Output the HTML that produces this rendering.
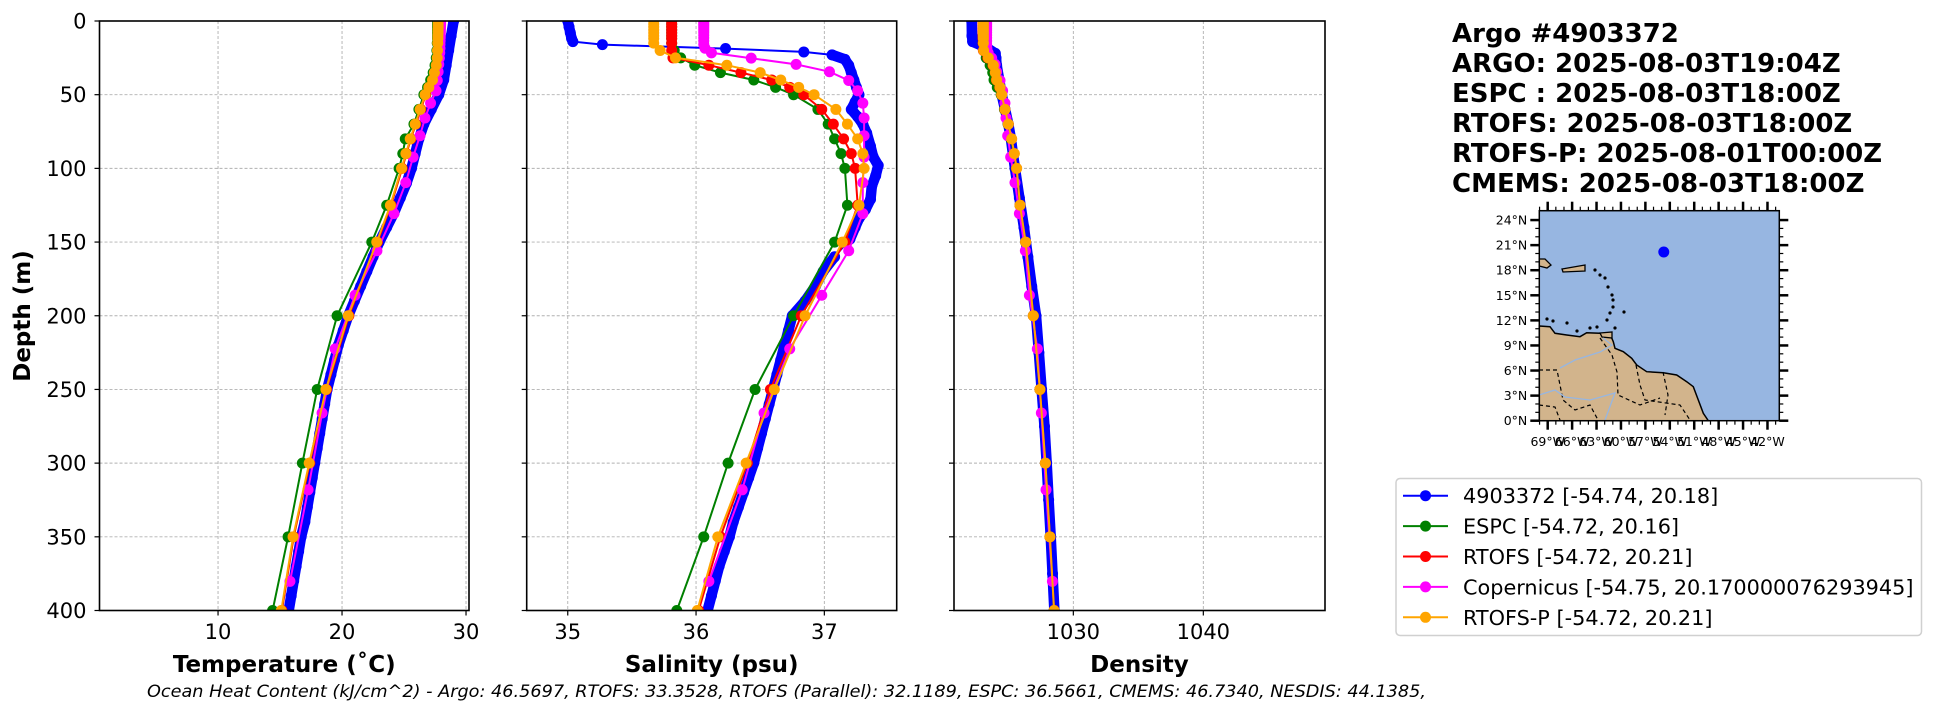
<!DOCTYPE html>
<html><head><meta charset="utf-8"><style>
html,body{margin:0;padding:0;background:#fff;}
svg{display:block;font-family:"DejaVu Sans","Liberation Sans",sans-serif;}
</style></head><body>
<svg id="fig" width="1948" height="712" viewBox="0 0 1948 712" xmlns="http://www.w3.org/2000/svg">
<g id="panels"></g>
<g id="titleblock" font-weight="bold" font-size="26">
<text x="1452" y="42">Argo #4903372</text>
<text x="1452" y="72">ARGO: 2025-08-03T19:04Z</text>
<text x="1452" y="102">ESPC : 2025-08-03T18:00Z</text>
<text x="1452" y="132">RTOFS: 2025-08-03T18:00Z</text>
<text x="1452" y="162">RTOFS-P: 2025-08-01T00:00Z</text>
<text x="1452" y="192">CMEMS: 2025-08-03T18:00Z</text>
</g>
<g id="map"></g>
<g id="legend"></g>
<text x="147" y="697" font-size="17" font-style="italic" textLength="1279" lengthAdjust="spacingAndGlyphs">Ocean Heat Content (kJ/cm^2) - Argo: 46.5697,  RTOFS: 33.3528,  RTOFS (Parallel): 32.1189,  ESPC: 36.5661,  CMEMS: 46.7340,  NESDIS: 44.1385,</text>
</svg>
<script>
// ---------- data ----------
const modelDepths = [0,2,4,6,8,10,12,15,20,25,30,35,40,45,50,60,70,80,90,100,125,150,200,250,300,350,400];
const cmemsDepths = [0.49,1.54,2.65,3.82,5.08,6.44,7.93,9.57,11.4,13.47,15.81,18.5,21.6,25.21,29.44,34.43,40.34,47.37,55.76,65.81,77.85,92.33,109.7,130.7,155.9,186.1,222.5,266.0,318.1,380.2];
const argoTempDepths = [0,10,20,30,40,50,60,70,80,90,100,110,120,130,140,150,160,170,180,190,200,210,220,230,240,250,260,270,280,290,300,310,320,330,340,350,360,370,380,390,400];
const argoTemp = [29.0,28.8,28.6,28.4,28.2,27.8,27.2,26.6,26.2,25.9,25.6,25.2,24.7,24.2,23.6,23.0,22.5,22.0,21.5,21.0,20.5,20.1,19.7,19.4,19.1,18.8,18.6,18.4,18.2,18.0,17.8,17.6,17.4,17.2,17.0,16.7,16.5,16.3,16.1,15.9,15.7];
const espcTemp = [27.7,27.7,27.7,27.7,27.7,27.7,27.7,27.68,27.65,27.6,27.5,27.35,27.15,26.9,26.6,26.2,25.8,25.1,24.9,24.6,23.6,22.4,19.6,18.0,16.8,15.65,14.4];
const rtofsTemp = [27.8,27.8,27.8,27.79,27.79,27.78,27.78,27.77,27.75,27.72,27.65,27.5,27.35,27.05,26.75,26.35,25.95,25.55,25.2,24.85,23.95,22.85,20.55,18.75,17.4,16.1,15.15];
const rtofspTemp = [27.75,27.75,27.75,27.74,27.74,27.73,27.73,27.72,27.7,27.68,27.6,27.45,27.3,27.0,26.7,26.3,25.9,25.5,25.15,24.8,23.9,22.8,20.5,18.7,17.35,16.05,15.1];
const cmemsTemp = [27.95,27.95,27.95,27.94,27.94,27.93,27.93,27.92,27.92,27.91,27.9,27.9,27.88,27.85,27.8,27.75,27.68,27.58,27.14,26.69,26.29,25.73,25.14,24.19,22.82,21.05,19.44,18.39,17.26,15.8];
const argoSalDepths = [0,4,8,12,14,16,18.7,21,23,26,30,35,40,45,50,55,60,65,70,76,85,92,98,105,112,121,128,134,140,148,160,170,180,190,200,210,220,230,240,250,260,270,280,290,300,310,320,330,340,350,360,370,380,390,400];
const argoSal = [35.0,35.01,35.02,35.03,35.04,35.27,36.23,36.84,37.06,37.16,37.19,37.21,37.23,37.25,37.27,37.24,37.21,37.26,37.30,37.33,37.36,37.38,37.42,37.40,37.37,37.36,37.32,37.27,37.24,37.20,37.08,36.99,36.93,36.85,36.75,36.72,36.69,36.66,36.63,36.60,36.57,36.54,36.51,36.48,36.45,36.41,36.37,36.33,36.29,36.26,36.22,36.18,36.15,36.12,36.09];
const espcSal = [35.81,35.81,35.81,35.81,35.81,35.81,35.81,35.81,35.83,35.88,35.99,36.19,36.45,36.62,36.76,36.95,37.03,37.08,37.13,37.16,37.18,37.08,36.76,36.46,36.25,36.06,35.85];
const rtofsSal = [35.81,35.81,35.81,35.81,35.81,35.81,35.81,35.81,35.81,35.82,36.10,36.35,36.59,36.73,36.84,36.98,37.07,37.15,37.21,37.24,37.26,37.16,36.82,36.58,36.40,36.19,36.02];
const rtofspSal = [35.67,35.67,35.67,35.67,35.67,35.67,35.67,35.67,35.72,35.84,36.24,36.50,36.66,36.80,36.92,37.09,37.18,37.26,37.30,37.31,37.27,37.14,36.85,36.61,36.39,36.17,36.01];
const cmemsSal = [36.06,36.06,36.06,36.06,36.06,36.06,36.06,36.06,36.06,36.06,36.06,36.07,36.12,36.43,36.78,37.04,37.19,37.26,37.30,37.31,37.31,37.31,37.30,37.30,37.19,36.98,36.73,36.53,36.36,36.10];
const argoDenDepths = [0,10,14,18,22,25,30,40,50,60,70,80,90,100,120,140,160,180,200,225,250,275,300,325,350,375,400];
const argoDen = [1022.18,1022.2,1022.25,1023.3,1024.0,1024.05,1024.1,1024.3,1024.49,1024.75,1025.0,1025.2,1025.35,1025.51,1025.85,1026.2,1026.5,1026.8,1027.13,1027.35,1027.56,1027.78,1027.95,1028.1,1028.26,1028.4,1028.54];
const espcDen = [1023.05,1023.05,1023.05,1023.05,1023.05,1023.05,1023.05,1023.06,1023.1,1023.3,1023.6,1023.8,1023.9,1024.15,1024.45,1024.7,1024.98,1025.2,1025.42,1025.62,1025.9,1026.33,1026.92,1027.43,1027.85,1028.2,1028.52];
const rtofsDen = [1023.05,1023.05,1023.05,1023.05,1023.05,1023.05,1023.05,1023.06,1023.08,1023.42,1023.82,1024.0,1024.08,1024.34,1024.49,1024.73,1025.0,1025.25,1025.45,1025.63,1025.9,1026.33,1026.92,1027.43,1027.85,1028.2,1028.52];
const rtofspDen = [1023.08,1023.08,1023.08,1023.08,1023.08,1023.08,1023.08,1023.08,1023.1,1023.46,1023.85,1024.0,1024.1,1024.36,1024.49,1024.74,1025.0,1025.26,1025.46,1025.64,1025.9,1026.33,1026.92,1027.43,1027.85,1028.2,1028.52];
const cmemsDen = [1023.33,1023.33,1023.33,1023.33,1023.33,1023.33,1023.33,1023.33,1023.33,1023.33,1023.33,1023.35,1023.45,1023.72,1023.98,1024.1,1024.36,1024.56,1024.74,1024.82,1024.95,1025.18,1025.51,1025.85,1026.31,1026.62,1027.23,1027.54,1027.9,1028.39];
const depthTicks = [0,50,100,150,200,250,300,350,400];
const tempTicks = [10,20,30];
const salTicks = [35,36,37];
const denTicks = [1030,1040];
const latTicks = [0,3,6,9,12,15,18,21,24];
const lonTicks = [-69,-66,-63,-60,-57,-54,-51,-48,-45,-42];
const floatLon = -54.74, floatLat = 20.18;
const legendLabels = ["4903372 [-54.74, 20.18]","ESPC [-54.72, 20.16]","RTOFS [-54.72, 20.21]","Copernicus [-54.75, 20.170000076293945]","RTOFS-P [-54.72, 20.21]"];

// ---------- helpers ----------
const NS = "http://www.w3.org/2000/svg";
function mk(tag, attrs, parent){
  const e = document.createElementNS(NS, tag);
  for (const k in attrs) e.setAttribute(k, attrs[k]);
  if (parent) parent.appendChild(e);
  return e;
}
const Y0 = 21, Y1 = 610.5;
const yScale = d => Y0 + (d/400)*(Y1-Y0);
const colors = {argo:"#0000ff", espc:"#008000", rtofs:"#ff0000", cmems:"#ff00ff", rtofsp:"#ffa500"};

function drawPanel(cfg){
  const root = document.getElementById("panels");
  const g = mk("g", {}, root);
  
  
  const x = v => cfg.left + (v - cfg.xmin)/(cfg.xmax - cfg.xmin)*(cfg.right - cfg.left);
  cfg.ticks.forEach(t => {
    const gl = mk("line", {x1:x(t), x2:x(t), y1:Y0, y2:Y1, stroke:"#b0b0b0", "stroke-width":0.9, "stroke-dasharray":"3,2"}, g);
    
    
  });
  depthTicks.forEach(d => {
    const gl = mk("line", {x1:cfg.left, x2:cfg.right, y1:yScale(d), y2:yScale(d), stroke:"#b0b0b0", "stroke-width":0.9, "stroke-dasharray":"3,2"}, g);
    
    
  });
  const clip = mk("clipPath", {id:"clip-"+cfg.name}, g);
  mk("rect", {x:cfg.left, y:Y0, width:cfg.right-cfg.left, height:Y1-Y0}, clip);
  const sg = mk("g", {"clip-path":"url(#clip-"+cfg.name+")"}, g);
  cfg.series.forEach(s => {
    const px = s.vals.map(v => x(v));
    const py = s.depths.map(d => yScale(d));
    const pts = px.map((xv,i) => xv.toFixed(1)+","+py[i].toFixed(1)).join(" ");
    const ser = mk("g", {}, sg);
    
    
    if (s.thick) {
      for (let i=1;i<px.length;i++){
        if (Math.abs(px[i]-px[i-1]) < 14) mk("line", {x1:px[i-1], y1:py[i-1], x2:px[i], y2:py[i], stroke:s.color, "stroke-width":10.5, "stroke-linecap":"round"}, ser);
      }
    }
    mk("polyline", {points:pts, fill:"none", stroke:s.color, "stroke-width":2}, ser);
    s.vals.forEach((v,i) => {
      const c = mk("circle", {cx:px[i], cy:py[i], r:5.5, fill:s.color}, ser);
      
      
    });
  });
  const fr = mk("rect", {x:cfg.left, y:Y0, width:cfg.right-cfg.left, height:Y1-Y0, fill:"none", stroke:"#000", "stroke-width":1.6}, g);
  
  
  depthTicks.forEach(d => {
    mk("line", {x1:cfg.left-5, x2:cfg.left, y1:yScale(d), y2:yScale(d), stroke:"#000", "stroke-width":1.2}, g);
    if (cfg.yLabels) {
      const t = mk("text", {x:cfg.left-13, y:yScale(d)+7.5, "font-size":21, "text-anchor":"end"}, g);
      t.textContent = d;
      
      
    }
  });
  cfg.ticks.forEach(tv => {
    mk("line", {x1:x(tv), x2:x(tv), y1:Y1, y2:Y1+5, stroke:"#000", "stroke-width":1.2}, g);
    const t = mk("text", {x:x(tv), y:639, "font-size":21, "text-anchor":"middle"}, g);
    t.textContent = tv;
    
    
  });
  const xl = mk("text", {x:(cfg.left+cfg.right)/2, y:672, "font-size":23, "font-weight":"bold", "text-anchor":"middle"}, g);
  xl.textContent = cfg.xlabel;
  
  
  if (cfg.yLabels) {
    const yl = mk("text", {x:0, y:0, "font-size":23, "font-weight":"bold", "text-anchor":"middle", transform:"translate(30,316) rotate(-90)"}, g);
    yl.textContent = "Depth (m)";
    
    
  }
}

function seriesSet(a, ad, e, r, c, p){
  return [
    {key:"argo", color:colors.argo, depths:ad, vals:a, thick:true},
    {key:"espc", color:colors.espc, depths:modelDepths, vals:e},
    {key:"rtofs", color:colors.rtofs, depths:modelDepths, vals:r},
    {key:"copernicus", color:colors.cmems, depths:cmemsDepths, vals:c},
    {key:"rtofs-p", color:colors.rtofsp, depths:modelDepths, vals:p}
  ];
}
drawPanel({name:"temperature-panel", left:99.5, right:469, xmin:0.44, xmax:30.24, ticks:tempTicks, xlabel:"Temperature (\u02DAC)", yLabels:true,
  series:seriesSet(argoTemp, argoTempDepths, espcTemp, rtofsTemp, cmemsTemp, rtofspTemp)});
drawPanel({name:"salinity-panel", left:526.7, right:896.7, xmin:34.68, xmax:37.564, ticks:salTicks, xlabel:"Salinity (psu)", yLabels:false,
  series:seriesSet(argoSal, argoSalDepths, espcSal, rtofsSal, cmemsSal, rtofspSal)});
drawPanel({name:"density-panel", left:954, right:1325, xmin:1020.82, xmax:1049.36, ticks:denTicks, xlabel:"Density", yLabels:false,
  series:seriesSet(argoDen, argoDenDepths, espcDen, rtofsDen, cmemsDen, rtofspDen)});

// ---------- map ----------
(function(){
  const m = document.getElementById("map");
  const L = 1539.3, R = 1779.3, T = 210.7, B = 420.7;
  const lonX = lon => 1547.7 + (lon + 69)*8.14;
  const latY = lat => 420.7 - lat*8.36;
  const ocean = mk("rect", {x:L, y:T, width:R-L, height:B-T, fill:"#97b6e1"}, m);
  
  
  const land = mk("polygon", {points:"1539.3,326 1550,326.7 1555,333.3 1566.7,335 1580,336.7 1586.7,332.7 1600,333.3 1610,334 1613.3,341.7 1615,348.3 1623.3,351.7 1631.7,358.3 1636.7,365 1646.7,371.7 1663.3,372.7 1676.7,375 1686.7,381.7 1693.3,386.7 1698.3,400 1703.3,413.3 1708.3,420.7 1539.3,420.7", fill:"#d2b48c", stroke:"#000", "stroke-width":1.5}, m);
  
  
  [["1539.3,259 1545,259 1551,265 1547,268 1539.3,266"],["1562,269 1585,265 1585,271 1563,272"],["1600,333 1612,332 1612,338 1602,337"]].forEach(p=>{
    const isl = mk("polygon", {points:p[0], fill:"#d2b48c", stroke:"#000", "stroke-width":1.3}, m);
    
    
  });
  [[1595,270],[1600,275],[1605,278],[1608,287],[1612,295],[1613,300],[1613,307],[1610,313],[1607,320],[1624,312],[1547,319],[1553,321],[1567,323],[1577,331],[1590,328],[1597,327],[1615,328]].forEach(p=>{
    mk("circle", {cx:p[0], cy:p[1], r:1.6, fill:"#000"}, m);
  });
  ["M1539,370 L1557,370 L1560,385 L1563,400 L1575,410 L1590,405 L1598,420","M1600,338 L1612,355 L1617,372 L1618,395 L1640,405 L1660,398","M1636,365 L1640,385 L1645,400 L1680,405 L1690,420","M1663,372 L1668,395 L1665,415","M1539,405 L1555,407 L1560,420"].forEach(d=>{
    mk("path", {d:d, fill:"none", stroke:"#000", "stroke-width":1.2, "stroke-dasharray":"4,3"}, m);
  });
  ["M1560,368 L1575,360 L1600,352 L1612,345 L1603,338","M1539,395 L1555,390 L1565,397 L1590,400 L1615,393 L1605,420"].forEach(d=>{
    mk("path", {d:d, fill:"none", stroke:"#97b6e1", "stroke-width":1.3}, m);
  });
  const dot = mk("circle", {cx:lonX(floatLon), cy:latY(floatLat), r:5.5, fill:"#0000ff"}, m);
  
  
  mk("rect", {x:L, y:T, width:R-L, height:B-T, fill:"none", stroke:"#000", "stroke-width":1.5}, m);
  latTicks.forEach(lat=>{
    const y = latY(lat);
    mk("line", {x1:L-9, x2:L, y1:y, y2:y, stroke:"#000", "stroke-width":2.5}, m);
    mk("line", {x1:R, x2:R+9, y1:y, y2:y, stroke:"#000", "stroke-width":2.5}, m);
    const t = mk("text", {x:L-12, y:y+4.5, "font-size":12.5, "text-anchor":"end"}, m);
    t.textContent = lat + "\u00B0N";
    
    
  });
  for (let lat=1; lat<25; lat++){ if (lat%3) { const y = latY(lat);
    mk("line", {x1:L-4, x2:L, y1:y, y2:y, stroke:"#000", "stroke-width":1.2}, m);
    mk("line", {x1:R, x2:R+4, y1:y, y2:y, stroke:"#000", "stroke-width":1.2}, m); } }
  lonTicks.forEach(lon=>{
    const x = lonX(lon);
    mk("line", {x1:x, x2:x, y1:B, y2:B+9, stroke:"#000", "stroke-width":2.5}, m);
    mk("line", {x1:x, x2:x, y1:T-9, y2:T, stroke:"#000", "stroke-width":2.5}, m);
    const t = mk("text", {x:x, y:446, "font-size":12.5, "text-anchor":"middle"}, m);
    t.textContent = (-lon) + "\u00B0W";
    
    
  });
  for (let lon=-70; lon<=-41; lon++){ if (lon%3) { const x = lonX(lon); if (x<L||x>R) continue;
    mk("line", {x1:x, x2:x, y1:B, y2:B+4, stroke:"#000", "stroke-width":1.2}, m);
    mk("line", {x1:x, x2:x, y1:T-4, y2:T, stroke:"#000", "stroke-width":1.2}, m); } }
})();

// ---------- legend ----------
(function(){
  const lg = document.getElementById("legend");
  mk("rect", {x:1396, y:478.5, width:525.5, height:157, rx:4, fill:"#fff", stroke:"#d0d0d0", "stroke-width":1.5}, lg);
  const cols = [colors.argo, colors.espc, colors.rtofs, colors.cmems, colors.rtofsp];
  legendLabels.forEach((lab,i)=>{
    const y = 495.7 + i*30.4;
    const e = mk("g", {}, lg);
    
    
    mk("line", {x1:1403, x2:1448, y1:y, y2:y, stroke:cols[i], "stroke-width":2}, e);
    mk("circle", {cx:1425.5, cy:y, r:5.5, fill:cols[i]}, e);
    const t = mk("text", {x:1463, y:y+7.5, "font-size":20.8}, e);
    t.textContent = lab;
  });
})();
</script>
</body></html>
